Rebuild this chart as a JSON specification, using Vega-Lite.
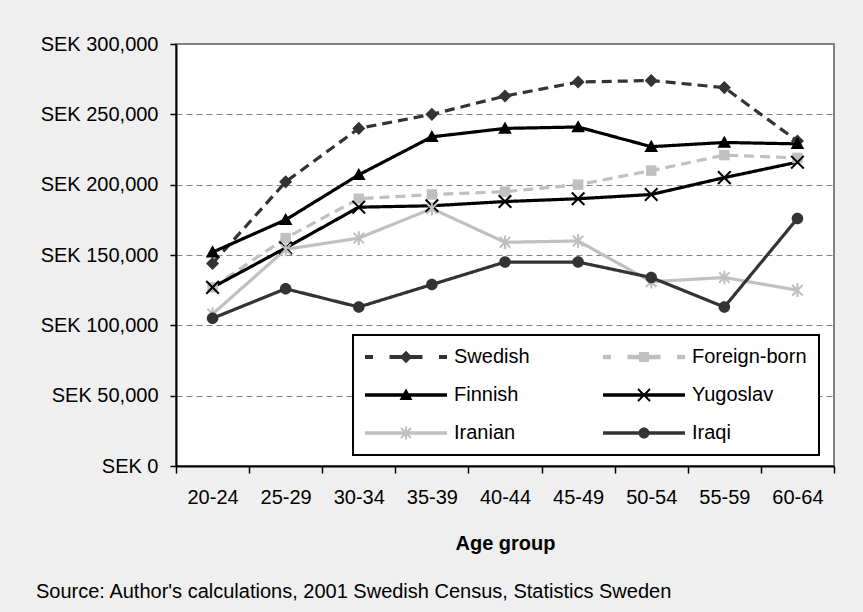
{
  "$schema": "https://vega.github.io/schema/vega-lite/v6.json",
  "width": 658,
  "height": 422,
  "autosize": {"type": "none"},
  "padding": {"left": 176, "top": 44, "right": 29, "bottom": 146},
  "background": "#efefef",
  "title": {
    "text": "Source: Author's calculations, 2001 Swedish Census, Statistics Sweden",
    "orient": "bottom", "anchor": "start", "frame": "group", "dx": -140, "offset": 29,
    "baseline": "top", "fontSize": 20, "fontWeight": "normal", "color": "black", "font": "Liberation Sans"
  },
  "data": {"values": [
    {"age": "20-24", "series": "Swedish", "value": 144000},
    {"age": "25-29", "series": "Swedish", "value": 202000},
    {"age": "30-34", "series": "Swedish", "value": 240000},
    {"age": "35-39", "series": "Swedish", "value": 250000},
    {"age": "40-44", "series": "Swedish", "value": 263000},
    {"age": "45-49", "series": "Swedish", "value": 273000},
    {"age": "50-54", "series": "Swedish", "value": 274000},
    {"age": "55-59", "series": "Swedish", "value": 269000},
    {"age": "60-64", "series": "Swedish", "value": 231000},
    {"age": "20-24", "series": "Foreign-born", "value": 127000},
    {"age": "25-29", "series": "Foreign-born", "value": 162000},
    {"age": "30-34", "series": "Foreign-born", "value": 190000},
    {"age": "35-39", "series": "Foreign-born", "value": 193000},
    {"age": "40-44", "series": "Foreign-born", "value": 195000},
    {"age": "45-49", "series": "Foreign-born", "value": 200000},
    {"age": "50-54", "series": "Foreign-born", "value": 210000},
    {"age": "55-59", "series": "Foreign-born", "value": 221000},
    {"age": "60-64", "series": "Foreign-born", "value": 219000},
    {"age": "20-24", "series": "Finnish", "value": 152000},
    {"age": "25-29", "series": "Finnish", "value": 175000},
    {"age": "30-34", "series": "Finnish", "value": 207000},
    {"age": "35-39", "series": "Finnish", "value": 234000},
    {"age": "40-44", "series": "Finnish", "value": 240000},
    {"age": "45-49", "series": "Finnish", "value": 241000},
    {"age": "50-54", "series": "Finnish", "value": 227000},
    {"age": "55-59", "series": "Finnish", "value": 230000},
    {"age": "60-64", "series": "Finnish", "value": 229000},
    {"age": "20-24", "series": "Yugoslav", "value": 127000},
    {"age": "25-29", "series": "Yugoslav", "value": 155000},
    {"age": "30-34", "series": "Yugoslav", "value": 184000},
    {"age": "35-39", "series": "Yugoslav", "value": 185000},
    {"age": "40-44", "series": "Yugoslav", "value": 188000},
    {"age": "45-49", "series": "Yugoslav", "value": 190000},
    {"age": "50-54", "series": "Yugoslav", "value": 193000},
    {"age": "55-59", "series": "Yugoslav", "value": 205000},
    {"age": "60-64", "series": "Yugoslav", "value": 216000},
    {"age": "20-24", "series": "Iranian", "value": 108000},
    {"age": "25-29", "series": "Iranian", "value": 154000},
    {"age": "30-34", "series": "Iranian", "value": 162000},
    {"age": "35-39", "series": "Iranian", "value": 183000},
    {"age": "40-44", "series": "Iranian", "value": 159000},
    {"age": "45-49", "series": "Iranian", "value": 160000},
    {"age": "50-54", "series": "Iranian", "value": 131000},
    {"age": "55-59", "series": "Iranian", "value": 134000},
    {"age": "60-64", "series": "Iranian", "value": 125000},
    {"age": "20-24", "series": "Iraqi", "value": 105000},
    {"age": "25-29", "series": "Iraqi", "value": 126000},
    {"age": "30-34", "series": "Iraqi", "value": 113000},
    {"age": "35-39", "series": "Iraqi", "value": 129000},
    {"age": "40-44", "series": "Iraqi", "value": 145000},
    {"age": "45-49", "series": "Iraqi", "value": 145000},
    {"age": "50-54", "series": "Iraqi", "value": 134000},
    {"age": "55-59", "series": "Iraqi", "value": 113000},
    {"age": "60-64", "series": "Iraqi", "value": 176000}
  ]},
  "encoding": {
    "x": {
      "field": "age", "type": "nominal", "sort": null,
      "scale": {"paddingInner": 0, "paddingOuter": 0},
      "axis": {
        "title": "Age group", "labelAngle": 0, "tickBand": "extent", "tickSize": 7,
        "labelPadding": 14, "titlePadding": 26, "titleFontWeight": "bold", "titleFontSize": 20,
        "grid": false
      }
    },
    "y": {
      "field": "value", "type": "quantitative",
      "scale": {"domain": [0, 300000], "nice": false},
      "axis": {
        "title": null, "values": [0, 50000, 100000, 150000, 200000, 250000, 300000],
        "labelExpr": "'SEK ' + format(datum.value, ',')",
        "tickSize": 6, "labelPadding": 12, "grid": true,
        "gridColor": "#808080", "gridDash": [6, 4], "gridWidth": 1
      }
    },
    "color": {
      "field": "series", "type": "nominal",
      "scale": {"domain": ["Swedish", "Foreign-born", "Finnish", "Yugoslav", "Iranian", "Iraqi"],
                "range": ["#333333", "#c0c0c0", "#000000", "#000000", "#c0c0c0", "#333333"]},
      "legend": {
        "title": null, "orient": "none", "legendX": 177, "legendY": 291,
        "direction": "horizontal", "columns": 2, "padding": 12, "rowPadding": 18, "columnPadding": 73,
        "symbolSize": 100, "symbolStrokeWidth": 0, "symbolOffset": 31, "labelOffset": 38,
        "labelFontSize": 20, "labelColor": "black", "labelFont": "Liberation Sans",
        "strokeColor": "black", "fillColor": "white",
        "encode": {
          "legend": {"update": {"strokeWidth": {"value": 2}}},
          "symbols": {"update": {
            "shape": {"signal": "datum.value === 'Swedish' ? 'M-8.2,-0.4H-6.6V0.4H-8.2Z M-3.3,-0.4H-0.8V0.4H-3.3Z M0.8,-0.4H3.3V0.4H0.8Z M6.6,-0.4H8.2V0.4H6.6Z M0,-1.25L1.25,0L0,1.25L-1.25,0Z' : datum.value === 'Foreign-born' ? 'M-8.2,-0.45H-6.6V0.45H-8.2Z M-3.3,-0.45H-0.8V0.45H-3.3Z M0.8,-0.45H3.3V0.45H0.8Z M6.6,-0.45H8.2V0.45H6.6Z M-1,-1H1V1H-1Z' : datum.value === 'Finnish' ? 'M-8.2,-0.35H8.2V0.35H-8.2Z M0,-1.3L1.3,1L-1.3,1Z' : datum.value === 'Yugoslav' ? 'M-8.2,-0.35H8.2V0.35H-8.2Z M-1.06,-1.34L1.34,1.06L1.06,1.34L-1.34,-1.06Z M1.34,-1.06L-1.06,1.34L-1.34,1.06L1.06,-1.34Z' : datum.value === 'Iranian' ? 'M-8.2,-0.35H8.2V0.35H-8.2Z M-0.2,-1.3H0.2V1.3H-0.2Z M-0.86,-1.14L1.14,0.86L0.86,1.14L-1.14,-0.86Z M1.14,-0.86L-0.86,1.14L-1.14,0.86L0.86,-1.14Z' : 'M-8.2,-0.35H8.2V0.35H-8.2Z M-1.1,0A1.1,1.1 0 1,1 1.1,0A1.1,1.1 0 1,1 -1.1,0Z'"},
            "fill": {"signal": "scale('color', datum.value)"},
            "stroke": {"value": "transparent"},
            "strokeWidth": {"value": 0},
            "opacity": {"value": 1},
            "size": {"value": 100}
          }}
        }
      }
    }
  },
  "layer": [
    {
      "mark": {"type": "line", "strokeWidth": 3.2},
      "encoding": {
        "strokeDash": {
          "field": "series", "type": "nominal", "legend": null,
          "scale": {"domain": ["Swedish", "Foreign-born", "Finnish", "Yugoslav", "Iranian", "Iraqi"],
                    "range": [[10, 6], [10, 6], [1, 0], [1, 0], [1, 0], [1, 0]]}
        }
      }
    },
    {
      "transform": [{"filter": {"field": "series", "equal": "Swedish"}}],
      "mark": {"type": "point", "filled": true, "size": 110, "opacity": 1, "strokeWidth": 0,
               "shape": "M0,-1.25L1.25,0L0,1.25L-1.25,0Z"}
    },
    {
      "transform": [{"filter": {"field": "series", "equal": "Foreign-born"}}],
      "mark": {"type": "point", "filled": true, "size": 110, "opacity": 1, "strokeWidth": 0,
               "shape": "M-1,-1H1V1H-1Z"}
    },
    {
      "transform": [{"filter": {"field": "series", "equal": "Finnish"}}],
      "mark": {"type": "point", "filled": true, "size": 110, "opacity": 1, "strokeWidth": 0,
               "shape": "M0,-1.3L1.3,1L-1.3,1Z"}
    },
    {
      "transform": [{"filter": {"field": "series", "equal": "Yugoslav"}}],
      "mark": {"type": "point", "filled": true, "size": 110, "opacity": 1, "strokeWidth": 0,
               "shape": "M-1.06,-1.34L1.34,1.06L1.06,1.34L-1.34,-1.06Z M1.34,-1.06L-1.06,1.34L-1.34,1.06L1.06,-1.34Z"}
    },
    {
      "transform": [{"filter": {"field": "series", "equal": "Iranian"}}],
      "mark": {"type": "point", "filled": true, "size": 110, "opacity": 1, "strokeWidth": 0,
               "shape": "M-0.2,-1.3H0.2V1.3H-0.2Z M-0.86,-1.14L1.14,0.86L0.86,1.14L-1.14,-0.86Z M1.14,-0.86L-0.86,1.14L-1.14,0.86L0.86,-1.14Z"}
    },
    {
      "transform": [{"filter": {"field": "series", "equal": "Iraqi"}}],
      "mark": {"type": "point", "filled": true, "size": 110, "opacity": 1, "strokeWidth": 0,
               "shape": "M-1.1,0A1.1,1.1 0 1,1 1.1,0A1.1,1.1 0 1,1 -1.1,0Z"}
    }
  ],
  "config": {
    "font": "Liberation Sans",
    "view": {"stroke": "#808080", "strokeWidth": 2, "fill": "white"},
    "axis": {
      "domainColor": "black", "domainWidth": 2, "tickColor": "black", "tickWidth": 1.5,
      "labelFontSize": 20, "labelColor": "black", "labelFont": "Liberation Sans",
      "titleColor": "black", "titleFont": "Liberation Sans"
    }
  }
}
